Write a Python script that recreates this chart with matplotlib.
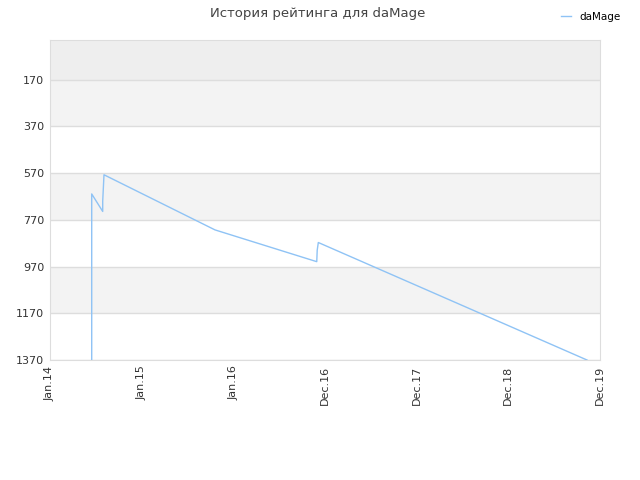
import numpy as np
import matplotlib.pyplot as plt

# rating history, x in tick-index units (0 = Jan.14 ... 6 = Dec.19)
x = [0.455, 0.455, 0.455, 0.575, 0.575, 0.589, 1.80, 2.91, 2.915, 2.927, 5.858]
rating = [1370, 880, 659, 734, 690, 577, 813, 949, 900, 867, 1370]

tick_labels = ['Jan.14', 'Jan.15', 'Jan.16', 'Dec.16', 'Dec.17', 'Dec.18', 'Dec.19']
y_ticks = [170, 370, 570, 770, 970, 1170, 1370]

fig = plt.figure(figsize=(6.4, 4.8), dpi=100)
ax = fig.add_axes([50/640, 1 - 360/480, 550/640, 320/480])

ymin, ymax = 0, 1370
ax.set_ylim(ymax, ymin)
ax.set_xlim(0, 6)

# background bands
ax.axhspan(ymin, 170, color='#eeeeee', zorder=0, lw=0)
for i, lo in enumerate(y_ticks[:-1]):
    if i % 2 == 0:
        ax.axhspan(lo, y_ticks[i + 1], color='#f3f3f3', zorder=0, lw=0)
for v in y_ticks:
    ax.axhline(v, color='#dddddd', lw=1, zorder=1)

ax.plot(x, rating, color='#8fc3f5', lw=1, label='daMage', zorder=3)

ax.set_yticks(y_ticks)
ax.set_yticklabels([str(v) for v in y_ticks], fontsize=8, color='#333333')
ax.set_xticks(range(len(tick_labels)))
ax.set_xticklabels(tick_labels, rotation=90, fontsize=8, color='#333333')
ax.tick_params(length=0, pad=4)
for s in ax.spines.values():
    s.set_color('#dddddd')

fig.text(0.497, 0.972, 'История рейтинга для daMage', ha='center', va='center',
         fontsize=9.5, color='#444444')
fig.legend(loc='upper right', bbox_to_anchor=(0.985, 0.995), frameon=False,
           fontsize=7.5, handlelength=1.0, handletextpad=0.8)

fig.savefig('out.png')
